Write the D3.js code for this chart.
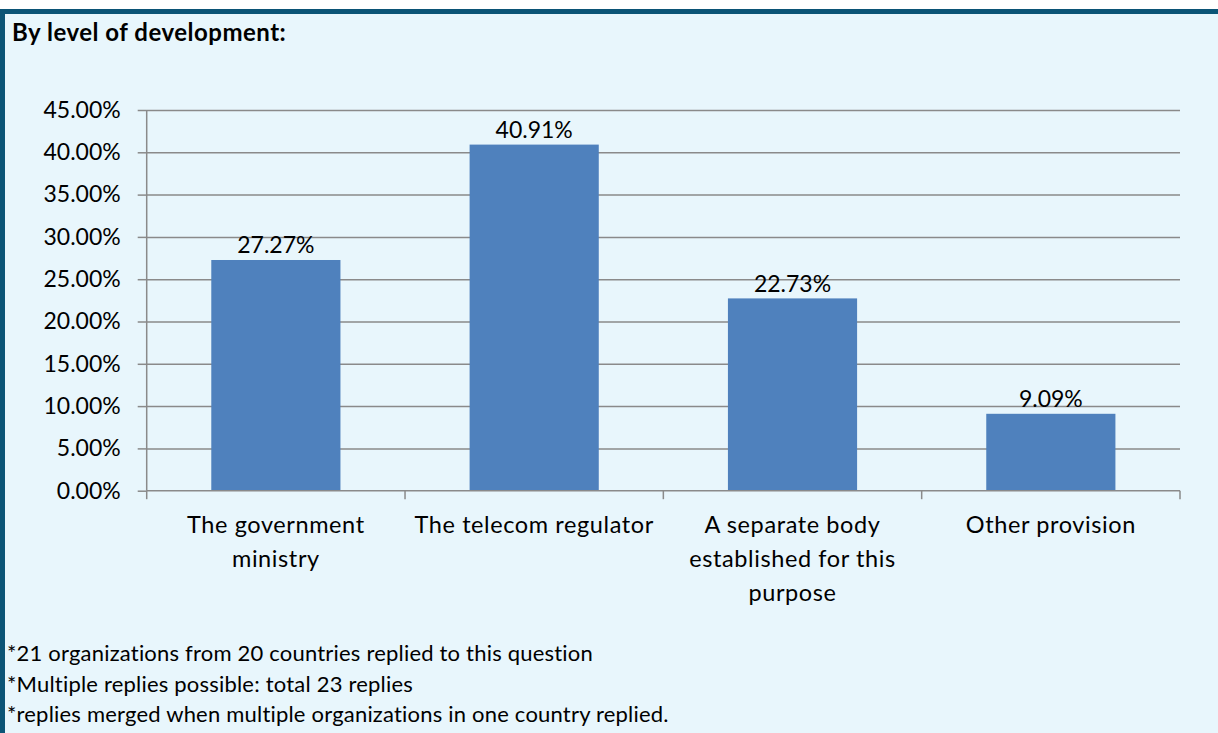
<!DOCTYPE html>
<html>
<head>
<meta charset="utf-8">
<script src="https://cdn.jsdelivr.net/npm/d3@7"></script>
<style>
  body { margin: 0; background: #fff; }
  text { font-family: Lato, 'Open Sans', sans-serif; fill: #000; font-variant-ligatures: none; }
</style>
</head>
<body>
<svg id="canvas" width="1218" height="733"></svg>
<script>
let title = 'By level of development:'
let categories = ['The government\nministry', 'The telecom regulator', 'A separate body\nestablished for this\npurpose', 'Other provision']
let values = [0.2727, 0.4091, 0.2273, 0.0909]
let yTicks = [0, 0.05, 0.10, 0.15, 0.20, 0.25, 0.30, 0.35, 0.40, 0.45]
let notes = [
    '*21 organizations from 20 countries replied to this question',
    '*Multiple replies possible: total 23 replies',
    '*replies merged when multiple organizations in one country replied.'
]

let canvas = d3.select('#canvas')

let plotLeft = 146.7, plotRight = 1180, plotTop = 110, plotBottom = 490.7
let numSize = 23

// panel background + dark border top/left
canvas.append('rect').attr('x', 0).attr('y', 9).attr('width', 1218).attr('height', 724).attr('fill', '#E8F6FC')
canvas.append('rect').attr('x', 0).attr('y', 9).attr('width', 1218).attr('height', 5).attr('fill', '#0B5476')
canvas.append('rect').attr('x', 0).attr('y', 9).attr('width', 5).attr('height', 724).attr('fill', '#0B5476')

canvas.append('text')
    .attr('x', 12).attr('y', 41)
    .style('font-size', '24px')
    .style('font-weight', 'bold')
    .style('letter-spacing', '0.5px')
    .text(title)

let x = d3.scaleBand()
    .domain(categories)
    .range([plotLeft, plotRight])
    .paddingInner(0.5)
    .paddingOuter(0.25)

let y = d3.scaleLinear()
    .domain([0, 0.45])
    .range([plotBottom, plotTop])

// gridlines
canvas.append('g')
    .attr('transform', 'translate(' + plotLeft + ',0)')
    .call(d3.axisLeft(y).tickValues(yTicks.slice(1)).tickSize(-(plotRight - plotLeft)).tickFormat(''))
    .call(g => g.select('.domain').remove())
    .selectAll('line')
    .attr('stroke', '#8A8A8A')
    .attr('stroke-width', 1.5)

// y axis
let yAxis = canvas.append('g')
    .attr('transform', 'translate(' + plotLeft + ',0)')
    .call(d3.axisLeft(y).tickValues(yTicks).tickSize(9).tickPadding(17).tickFormat(d3.format('.2%')))
yAxis.select('.domain').attr('stroke', '#8A8A8A').attr('stroke-width', 1.5).attr('d', 'M0,' + plotTop + 'V' + plotBottom)
yAxis.selectAll('line').attr('stroke', '#8A8A8A').attr('stroke-width', 1.5)
yAxis.selectAll('text').style('font-size', numSize + 'px').style('font-family', 'Lato').attr('fill', '#000')

// bars
canvas.selectAll('rect.bar')
    .data(values)
    .enter()
    .append('rect')
    .attr('class', 'bar')
    .attr('x', (d, i) => x(categories[i]))
    .attr('y', d => y(d))
    .attr('width', x.bandwidth())
    .attr('height', d => plotBottom - y(d))
    .attr('fill', '#4F81BD')

// value labels
canvas.selectAll('text.val')
    .data(values)
    .enter()
    .append('text')
    .attr('class', 'val')
    .attr('x', (d, i) => x(categories[i]) + x.bandwidth() / 2)
    .attr('y', d => y(d) - 6.5)
    .attr('text-anchor', 'middle')
    .style('font-size', numSize + 'px')
    .text(d => d3.format('.2%')(d))

// x axis line + category boundary ticks
canvas.append('line')
    .attr('x1', plotLeft).attr('x2', plotRight)
    .attr('y1', plotBottom).attr('y2', plotBottom)
    .attr('stroke', '#8A8A8A').attr('stroke-width', 1.5)
let bounds = d3.range(categories.length + 1).map(i => plotLeft + i * x.step())
canvas.selectAll('line.xtick')
    .data(bounds)
    .enter()
    .append('line')
    .attr('class', 'xtick')
    .attr('x1', d => d).attr('x2', d => d)
    .attr('y1', plotBottom).attr('y2', plotBottom + 8.5)
    .attr('stroke', '#8A8A8A').attr('stroke-width', 1.5)

// category labels
categories.forEach((c, i) => {
    let t = canvas.append('text')
        .attr('text-anchor', 'middle')
        .style('font-size', '23.5px')
        .style('letter-spacing', '0.6px')
    c.split('\n').forEach((line, j) => {
        t.append('tspan')
            .attr('x', x(c) + x.bandwidth() / 2)
            .attr('y', 532.5 + j * 34)
            .text(line)
    })
})

// notes
canvas.selectAll('text.note')
    .data(notes)
    .enter()
    .append('text')
    .attr('class', 'note')
    .attr('x', 7)
    .attr('y', (d, i) => 661 + i * 30.5)
    .style('font-size', '22px')
    .style('letter-spacing', '0.2px')
    .text(d => d)
</script>
</body>
</html>
